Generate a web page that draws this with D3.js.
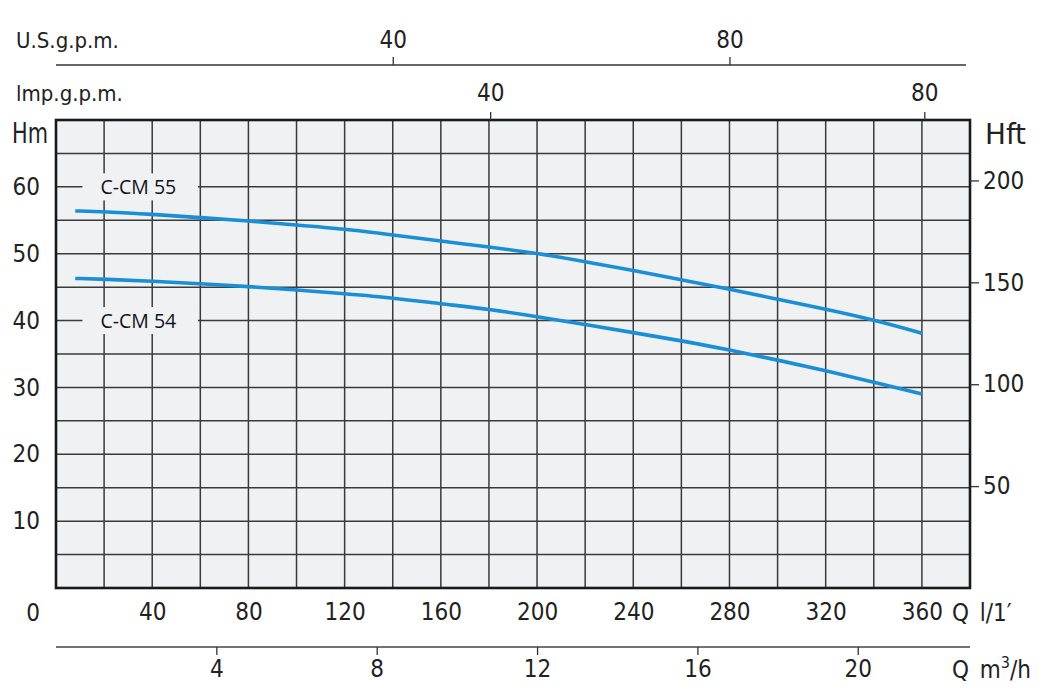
<!DOCTYPE html>
<html>
    <head>
        <script src="https://d3js.org/d3.v7.min.js"></script>
        <style>
            body { margin: 0; background: #fff; }
            .axis text {
                font-family: "DejaVu Sans Condensed", "DejaVu Sans", sans-serif;
                font-size: 24px;
                fill: #222;
            }
            .axis line { stroke: #333; stroke-width: 1.3px; }
            .unit {
                font-family: "DejaVu Sans Condensed", "DejaVu Sans", sans-serif;
                font-size: 22px;
                fill: #222;
            }
            .grid line { stroke: #3a3a3a; stroke-width: 1.5px; }
            .curve-label {
                font-family: "Open Sans", "Noto Sans", sans-serif;
                font-size: 19.5px;
                fill: #111118;
            }
        </style>
    </head>
    <body>
    <script>
        // flow in l/min and head in metres
        var flowLmin = [8, 20, 40, 60, 80, 100, 120, 140, 160, 180, 200, 220, 240, 260, 280, 300, 320, 340, 360]
        var headCM55 = [56.4, 56.3, 55.9, 55.4, 54.9, 54.3, 53.7, 52.8, 51.9, 51.0, 50.1, 48.8, 47.5, 46.1, 44.7, 43.2, 41.7, 40.1, 38.1]
        var headCM54 = [46.3, 46.2, 45.9, 45.5, 45.1, 44.6, 44.0, 43.4, 42.5, 41.7, 40.6, 39.4, 38.2, 37.0, 35.6, 34.1, 32.5, 30.8, 29.0]

        var seriesNames = ['C-CM 55', 'C-CM 54']
        var labelHeads = [60, 40]

        var lminTicks = [40, 80, 120, 160, 200, 240, 280, 320, 360]
        var hmTicks = [10, 20, 30, 40, 50, 60]
        var hftTicks = [50, 100, 150, 200]
        var usTicks = [40, 80]
        var impTicks = [40, 80]
        var m3hTicks = [4, 8, 12, 16, 20]

        var w = 1057, h = 698
        var plotLeft = 56, plotRight = 970, plotTop = 120, plotBottom = 588

        var svg = d3.select('body').append('svg')
            .attr('width', w)
            .attr('height', h)

        var xScale = d3.scaleLinear().domain([0, 380]).range([plotLeft, plotRight])
        var yScale = d3.scaleLinear().domain([0, 70]).range([plotBottom, plotTop])
        var yFtScale = d3.scaleLinear().domain([0, 70 * 3.2808]).range([plotBottom, plotTop])
        // the gallon scales as printed on the sheet
        var usScale = d3.scaleLinear().domain([0, 80]).range([xScale(0), xScale(280)])
        var impScale = d3.scaleLinear().domain([0, 80]).range([xScale(0), xScale(361)])
        var m3hScale = d3.scaleLinear().domain([0, 380 * 0.06]).range([plotLeft, plotRight])

        // plot background
        svg.append('rect')
            .attr('x', plotLeft).attr('y', plotTop)
            .attr('width', plotRight - plotLeft).attr('height', plotBottom - plotTop)
            .attr('fill', '#f0f1f3')

        // grid
        var grid = svg.append('g').attr('class', 'grid')
        grid.selectAll('.v').data(d3.range(20, 380, 20)).join('line')
            .attr('class', 'v')
            .attr('x1', function (d) { return xScale(d) })
            .attr('x2', function (d) { return xScale(d) })
            .attr('y1', plotTop).attr('y2', plotBottom)
        grid.selectAll('.hz').data(d3.range(5, 70, 5)).join('line')
            .attr('class', 'hz')
            .attr('x1', plotLeft).attr('x2', plotRight)
            .attr('y1', function (d) { return yScale(d) })
            .attr('y2', function (d) { return yScale(d) })

        // curve labels sit on a patch of background over the grid
        seriesNames.forEach(function (name, i) {
            var yc = yScale(labelHeads[i])
            svg.append('rect')
                .attr('x', xScale(11)).attr('y', yc - 13.5)
                .attr('width', xScale(59) - xScale(11)).attr('height', 27)
                .attr('fill', '#f0f1f3')
            svg.append('text')
                .attr('class', 'curve-label')
                .attr('x', xScale(18.5)).attr('y', yc)
                .attr('dy', '0.36em')
                .text(name)
        })

        var lineFunc = d3.line()
            .x(function (d) { return xScale(d[0]) })
            .y(function (d) { return yScale(d[1]) })
            .curve(d3.curveBasis)

        ;[headCM55, headCM54].forEach(function (heads) {
            svg.append('path')
                .attr('d', lineFunc(d3.zip(flowLmin, heads)))
                .attr('fill', 'none')
                .attr('stroke', '#1a8fd6')
                .attr('stroke-width', 3.6)
                .attr('stroke-linecap', 'butt')
        })

        // frame
        svg.append('rect')
            .attr('x', plotLeft).attr('y', plotTop)
            .attr('width', plotRight - plotLeft).attr('height', plotBottom - plotTop)
            .attr('fill', 'none')
            .attr('stroke', '#1a1a1a')
            .attr('stroke-width', 2.6)

        // left Hm axis
        svg.append('g').attr('class', 'axis')
            .attr('transform', 'translate(' + plotLeft + ',0)')
            .call(d3.axisLeft(yScale).tickValues(hmTicks).tickSize(0).tickPadding(16))
            .call(function (g) { g.select('.domain').remove() })

        // right Hft axis
        svg.append('g').attr('class', 'axis')
            .attr('transform', 'translate(' + plotRight + ',0)')
            .call(d3.axisRight(yFtScale).tickValues(hftTicks).tickSize(9).tickPadding(4))
            .call(function (g) { g.select('.domain').remove() })

        // bottom l/min axis
        svg.append('g').attr('class', 'axis')
            .attr('transform', 'translate(0,' + plotBottom + ')')
            .call(d3.axisBottom(xScale).tickValues(lminTicks).tickSize(0).tickPadding(15))
            .call(function (g) { g.select('.domain').remove() })

        svg.append('text').attr('class', 'unit')
            .attr('x', 40).attr('y', 621).attr('text-anchor', 'end')
            .style('font-size', '24px').text('0')
        svg.append('text').attr('class', 'unit')
            .attr('x', 952).attr('y', 621).style('font-size', '24px')
            .text('Q\u2002l/1′')

        // m3/h axis
        svg.append('line')
            .attr('x1', plotLeft).attr('x2', plotRight)
            .attr('y1', 647).attr('y2', 647)
            .attr('stroke', '#444').attr('stroke-width', 1.3)
        svg.append('g').attr('class', 'axis')
            .attr('transform', 'translate(0,647)')
            .call(d3.axisBottom(m3hScale).tickValues(m3hTicks).tickSize(8).tickPadding(5))
            .call(function (g) { g.select('.domain').remove() })

        var qm = svg.append('text').attr('class', 'unit')
            .attr('x', 952).attr('y', 678).style('font-size', '24px')
        qm.append('tspan').text('Q\u2002m')
        qm.append('tspan').attr('dy', -10).style('font-size', '16px').text('3')
        qm.append('tspan').attr('dy', 10).text('/h')

        // U.S. gpm axis
        svg.append('line')
            .attr('x1', plotLeft).attr('x2', 966)
            .attr('y1', 65).attr('y2', 65)
            .attr('stroke', '#333').attr('stroke-width', 1.3)
        svg.append('g').attr('class', 'axis')
            .attr('transform', 'translate(0,65)')
            .call(d3.axisTop(usScale).tickValues(usTicks).tickSize(8).tickPadding(9))
            .call(function (g) { g.select('.domain').remove() })

        // Imp gpm axis
        svg.append('g').attr('class', 'axis')
            .attr('transform', 'translate(0,' + plotTop + ')')
            .call(d3.axisTop(impScale).tickValues(impTicks).tickSize(8).tickPadding(11))
            .call(function (g) { g.select('.domain').remove() })

        svg.append('text').attr('class', 'unit')
            .attr('x', 16).attr('y', 48).text('U.S.g.p.m.')
        svg.append('text').attr('class', 'unit')
            .attr('x', 16).attr('y', 101).text('lmp.g.p.m.')
        svg.append('text').attr('class', 'unit')
            .attr('x', 12).attr('y', 143).style('font-size', '28px')
            .attr('textLength', 36).attr('lengthAdjust', 'spacingAndGlyphs')
            .text('Hm')
        svg.append('text').attr('class', 'unit')
            .attr('x', 985).attr('y', 144).style('font-size', '28px')
            .attr('textLength', 41).attr('lengthAdjust', 'spacingAndGlyphs')
            .text('Hft')
    </script>
    </body>
</html>
